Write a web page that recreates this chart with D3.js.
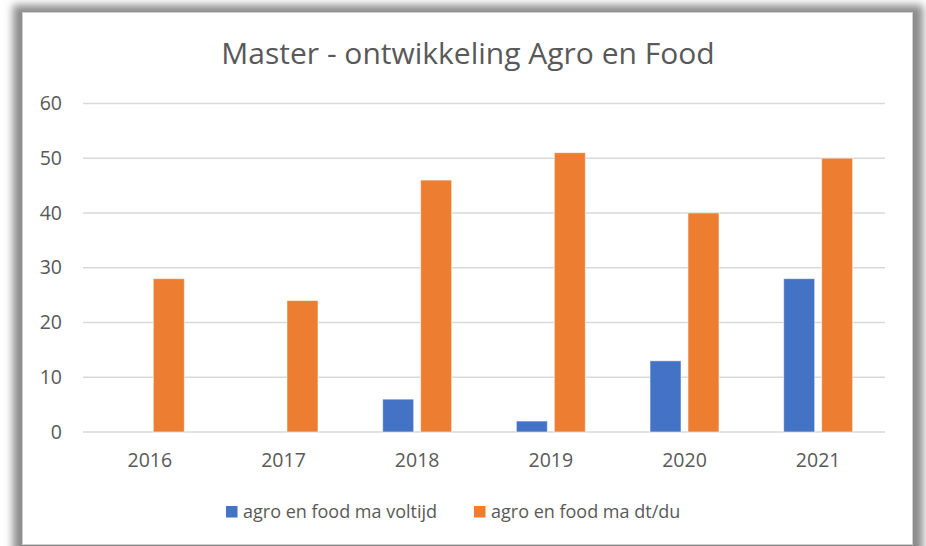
<!DOCTYPE html>
<html>
<head>
<meta charset="utf-8">
<script src="https://cdn.jsdelivr.net/npm/d3@7"></script>
<style>
  body { margin: 0; background: #ffffff; }
  text { font-family: "Open Sans", sans-serif; fill: #595959; }
</style>
</head>
<body>
<div id="chart"></div>
<script>
// Data
const years = ["2016", "2017", "2018", "2019", "2020", "2021"];
const voltijd = [0, 0, 6, 2, 13, 28];
const dtdu = [28, 24, 46, 51, 40, 50];
const yTicks = [0, 10, 20, 30, 40, 50, 60];
const seriesNames = ["agro en food ma voltijd", "agro en food ma dt/du"];
const colors = ["#4472C4", "#ED7D31"];

const W = 926, H = 546;
const plot = { left: 83, right: 885, top: 103.4, bottom: 432 };

let svg = d3.select("#chart")
    .append("svg")
    .attr("width", W)
    .attr("height", H);

// shadow + chart frame
let defs = svg.append("defs");
defs.append("filter")
    .attr("id", "shadow")
    .attr("x", "-10%").attr("y", "-10%")
    .attr("width", "120%").attr("height", "120%")
    .append("feGaussianBlur")
    .attr("stdDeviation", 4);

svg.append("rect")
    .attr("x", 13).attr("y", 5)
    .attr("width", 910).attr("height", 570)
    .attr("fill", "#8a8a8a")
    .attr("filter", "url(#shadow)");

svg.append("rect")
    .attr("x", 22.5).attr("y", 12.5)
    .attr("width", 890).attr("height", 532)
    .attr("fill", "#ffffff")
    .attr("stroke", "#d0d0d0")
    .attr("stroke-width", 1);

// title
svg.append("text")
    .attr("x", 468)
    .attr("y", 64)
    .attr("text-anchor", "middle")
    .style("font-size", "30px")
    .text("Master - ontwikkeling Agro en Food");

// scales
let x = d3.scaleBand()
    .domain(years)
    .range([plot.left, plot.right])
    .padding(0);

let y = d3.scaleLinear()
    .domain([0, 60])
    .range([plot.bottom, plot.top]);

// gridlines
svg.append("g")
    .selectAll("line")
    .data(yTicks)
    .join("line")
    .attr("x1", plot.left)
    .attr("x2", plot.right)
    .attr("y1", d => y(d))
    .attr("y2", d => y(d))
    .attr("stroke", "#d9d9d9")
    .attr("stroke-width", 1.5);

// y axis labels
let yAxis = svg.append("g")
    .attr("transform", `translate(${plot.left - 21}, 0)`)
    .call(d3.axisLeft(y).tickValues(yTicks).tickSize(0).tickPadding(0));
yAxis.select(".domain").remove();
yAxis.selectAll("text")
    .style("font-size", "19.5px")
    .attr("fill", "#595959");

// x axis labels
let xAxis = svg.append("g")
    .attr("transform", `translate(0, ${plot.bottom})`)
    .call(d3.axisBottom(x).tickSize(0).tickPadding(21));
xAxis.select(".domain").remove();
xAxis.selectAll("text")
    .style("font-size", "19.5px")
    .attr("fill", "#595959");

// bars
const barW = x.bandwidth() * 0.232;
const gap = x.bandwidth() * 0.052;
const series = [voltijd, dtdu];

series.forEach(function(values, s) {
    svg.append("g")
        .selectAll("rect")
        .data(values)
        .join("rect")
        .attr("x", function(d, i) {
            let c = x(years[i]) + x.bandwidth() / 2;
            return s === 0 ? c - gap / 2 - barW : c + gap / 2;
        })
        .attr("y", d => y(d))
        .attr("width", barW)
        .attr("height", d => y(0) - y(d))
        .attr("fill", colors[s])
        .attr("stroke", d => d > 0 ? "rgba(255,255,255,0.55)" : "none")
        .attr("stroke-width", 1);
});

// legend
const legendX = [226, 474];
let legend = svg.append("g");
seriesNames.forEach(function(name, s) {
    legend.append("rect")
        .attr("x", legendX[s])
        .attr("y", 506)
        .attr("width", 11.5)
        .attr("height", 11.5)
        .attr("fill", colors[s]);
    legend.append("text")
        .attr("x", legendX[s] + 17)
        .attr("y", 518)
        .style("font-size", "18px")
        .text(name);
});
</script>
</body>
</html>
